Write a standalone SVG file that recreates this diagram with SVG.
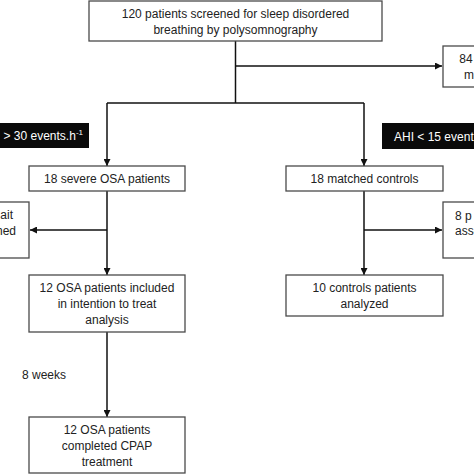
<svg xmlns="http://www.w3.org/2000/svg" width="474" height="474" viewBox="0 0 474 474">
<style>
.box{fill:#fff;stroke:#4a4a4a;stroke-width:1.3}
.t{font-family:"Liberation Sans",Arial,sans-serif;font-size:12px;fill:#222;text-anchor:middle}
.s{text-anchor:start}
.e{text-anchor:end}
.lbl{fill:#0a0a0a}
.lt{font-family:"Liberation Sans",Arial,sans-serif;font-size:12px;fill:#fff}
.ln{fill:none;stroke:#111;stroke-width:1.5}
</style>
<defs>
<marker id="ah" viewBox="0 0 10 10" refX="10" refY="5" markerWidth="7" markerHeight="7" markerUnits="userSpaceOnUse" orient="auto">
<path d="M0,0 L10,5 L0,10 z" fill="#111"/>
</marker>
</defs>
<rect width="474" height="474" fill="#fff"/>
<g id="connectors">
<line class="ln" x1="235.5" y1="41" x2="235.5" y2="103"/>
<line class="ln" x1="235.5" y1="66" x2="442" y2="66" marker-end="url(#ah)"/>
<line class="ln" x1="107" y1="103" x2="364" y2="103"/>
<line class="ln" x1="107" y1="103" x2="107" y2="166" marker-end="url(#ah)"/>
<line class="ln" x1="364" y1="103" x2="364" y2="166" marker-end="url(#ah)"/>
<line class="ln" x1="107" y1="191" x2="107" y2="275" marker-end="url(#ah)"/>
<line class="ln" x1="107" y1="230" x2="30" y2="230" marker-end="url(#ah)"/>
<line class="ln" x1="364" y1="191" x2="364" y2="275" marker-end="url(#ah)"/>
<line class="ln" x1="364" y1="230" x2="442" y2="230" marker-end="url(#ah)"/>
<line class="ln" x1="107" y1="332" x2="107" y2="417" marker-end="url(#ah)"/>
</g>
<g id="n-screened">
<rect class="box" x="89" y="1" width="293" height="40"/>
<text class="t" x="235.5" y="18">120 patients screened for sleep disordered</text>
<text class="t" x="235.5" y="34">breathing by polysomnography</text>
</g>
<g id="n-excluded">
<rect class="box" x="443" y="46" width="40" height="41"/>
<text class="t" x="466" y="63">84</text>
<text class="t" x="469" y="79">m</text>
</g>
<g id="l-severe">
<rect class="lbl" x="-2" y="123" width="91" height="25"/>
<text class="lt" x="83" y="140" text-anchor="end">&gt; 30 events.h<tspan font-size="8" dy="-5">-1</tspan></text>
</g>
<g id="l-control">
<rect class="lbl" x="382" y="123" width="94" height="26"/>
<text class="lt" x="394" y="141">AHI &lt; 15 event</text>
</g>
<g id="n-severe">
<rect class="box" x="29" y="166" width="156" height="25"/>
<text class="t" x="107" y="183">18 severe OSA patients</text>
</g>
<g id="n-matched">
<rect class="box" x="286" y="166" width="157" height="25"/>
<text class="t" x="364.5" y="183">18 matched controls</text>
</g>
<g id="n-left-excl">
<rect class="box" x="-10" y="202" width="39" height="56"/>
<text class="t e" x="13" y="219">ait</text>
<text class="t e" x="16" y="235">hed</text>
</g>
<g id="n-right-excl">
<rect class="box" x="443" y="202" width="40" height="56"/>
<text class="t s" x="455" y="220">8 p</text>
<text class="t s" x="455" y="235">ass-</text>
</g>
<g id="n-itt">
<rect class="box" x="29" y="275" width="156" height="57"/>
<text class="t" x="107" y="292">12 OSA patients included</text>
<text class="t" x="107" y="308">in intention to treat</text>
<text class="t" x="107" y="324">analysis</text>
</g>
<g id="n-controls">
<rect class="box" x="286" y="275" width="157" height="41"/>
<text class="t" x="364.5" y="292">10 controls patients</text>
<text class="t" x="364.5" y="308">analyzed</text>
</g>
<g id="l-weeks">
<text class="t s" x="22" y="379">8 weeks</text>
</g>
<g id="n-cpap">
<rect class="box" x="29" y="417" width="156" height="56"/>
<text class="t" x="107" y="434">12 OSA patients</text>
<text class="t" x="107" y="450">completed CPAP</text>
<text class="t" x="107" y="466">treatment</text>
</g>
</svg>
